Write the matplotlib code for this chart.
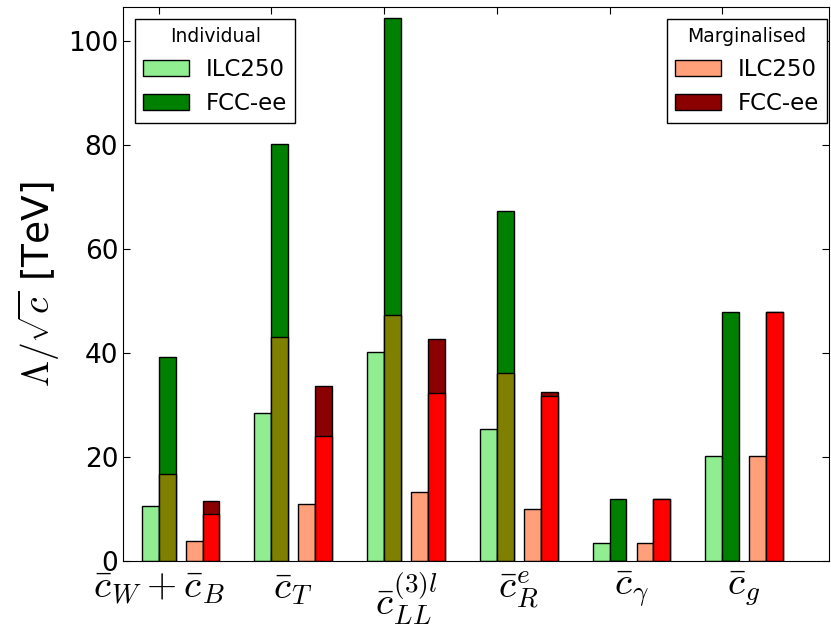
import numpy as np
import matplotlib
matplotlib.use('Agg')
import matplotlib.pyplot as plt

plt.rcParams['mathtext.fontset'] = 'cm'

# operatory
labels = [r'$\bar{c}_W+\bar{c}_B$', r'$\bar{c}_T$', r'$\bar{c}^{(3)l}_{LL}$',
          r'$\bar{c}^e_R$', r'$\bar{c}_\gamma$', r'$\bar{c}_g$']

# Individual
ind_ilc = [10.5, 28.4, 40.3, 25.4, 3.4, 20.3]
ind_fcc = [39.2, 80.2, 104.4, 67.3, 11.9, 48.0]
ind_fcc_low = [16.7, 43.2, 47.4, 36.1, 0.0, 0.0]

# Marginalised
marg_ilc = [3.85, 11.0, 13.2, 10.0, 3.4, 20.3]
marg_fcc = [11.6, 33.6, 42.7, 32.6, 11.9, 48.0]
marg_fcc_low = [9.0, 24.1, 32.3, 31.8, 11.9, 48.0]

index = np.arange(len(labels))
w = 0.15

fig = plt.figure(figsize=(8.31, 6.32), dpi=100)
ax = fig.add_axes([0.148, 0.1123, 0.85, 0.8766])

kw = dict(width=w, align='edge', edgecolor='black', linewidth=1.0)
b1 = ax.bar(index, ind_ilc, color='lightgreen', **kw)
b2 = ax.bar(index + w, ind_fcc, color='green', **kw)
ax.bar(index + w, ind_fcc_low, color='olive', **kw)
b3 = ax.bar(index + 0.39, marg_ilc, color='lightsalmon', **kw)
b4 = ax.bar(index + 0.39 + w, marg_fcc, color='darkred', **kw)
ax.bar(index + 0.39 + w, marg_fcc_low, color='red', **kw)

ax.set_xlim(-0.166, 6.1)
ax.set_ylim(0, 106.6)

# kreski na osi X
ax.xaxis.remove_overlapping_locs = False
ax.set_xticks(index + w)
ax.set_xticklabels([''] * len(labels))
label_pos = [0.15, 1.345, 2.345, 3.345, 4.345, 5.345]
ax.set_xticks(label_pos, minor=True)
ax.set_xticklabels(labels, minor=True, fontsize=28)
ax.tick_params(axis='x', which='minor', length=0, pad=6)
ax.tick_params(which='major', direction='in', top=True, right=True, length=5,
               labelsize=19)
ax.set_yticks([0, 20, 40, 60, 80, 100])

ax.set_ylabel(r'$\Lambda/\sqrt{c}$ [TeV]', fontsize=27)

leg_kw = dict(fontsize=16.5, title_fontsize=13.5, fancybox=False, edgecolor='black',
              framealpha=1, borderaxespad=0, handlelength=2.0, handletextpad=0.75,
              borderpad=0.35)
leg1 = ax.legend([b1, b2], ['ILC250', 'FCC-ee'], title='Individual', loc='upper left',
                 bbox_to_anchor=(0.017, 0.978), **leg_kw)
ax.add_artist(leg1)
ax.legend([b3, b4], ['ILC250', 'FCC-ee'], title='Marginalised', loc='upper right',
          bbox_to_anchor=(0.997, 0.978), **leg_kw)

fig.savefig('out.png', dpi=100)
